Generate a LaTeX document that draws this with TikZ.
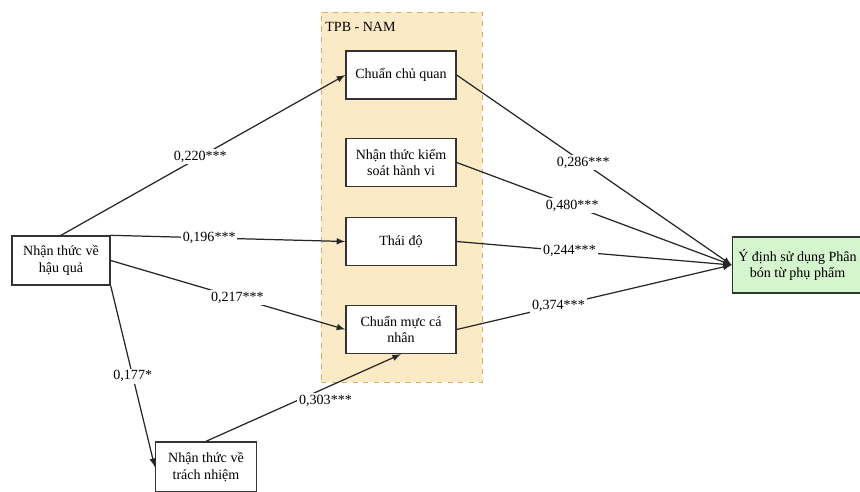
\documentclass[tikz,border=0pt]{standalone}
\usepackage{fontspec}
\setmainfont{Liberation Serif}
\usetikzlibrary{positioning, arrows, calc}
\definecolor{panelfill}{RGB}{252,234,198}
\definecolor{paneldraw}{RGB}{205,175,115}
\definecolor{goalfill}{RGB}{212,245,205}
\begin{document}
\begin{tikzpicture}[x=0.02cm, y=-0.02cm, font=\fontsize{8}{9.5}\selectfont,
	box/.style={draw=black!80, line width=0.8pt, rectangle, fill=white, text centered, align=center, minimum width=2.2cm, minimum height=0.96cm},
	link/.style={-latex, draw=black!85, line width=0.7pt},
	coef/.style={fill=white, inner sep=1pt}]
			
			\useasboundingbox (0,0) rectangle (860,491);
			\clip (0,0) rectangle (860,491);
			
			%Panel
			\node (panel) at (401.5,197) [draw=paneldraw, dashed, fill=panelfill, minimum width=3.22cm, minimum height=7.4cm]{};
			\node (paneltitle) at (325,27) [anchor=west, inner sep=0pt]{TPB - NAM};
			
			%Nodes
			\node (cqc) at (401,75) [box]{Chuẩn chủ quan};
			\node (kshv) at (401,162.5) [box]{Nhận thức kiểm\\soát hành vi};
			\node (thaido) at (401,241.5) [box]{Thái độ};
			\node (cmcn) at (401,329.5) [box]{Chuẩn mực cá\\nhân};
			
			\node (hauqua) at (61,260.5) [box, minimum width=1.96cm, minimum height=0.98cm]{Nhận thức về\\hậu quả};
			\node (trachnhiem) at (206,467) [box, minimum width=2.02cm, minimum height=1cm]{Nhận thức về\\trách nhiệm};
			\node (ydinh) at (797.5,265) [box, fill=goalfill, minimum width=2.5cm, minimum height=1.12cm]{Ý định sử dụng Phân\\bón từ phụ phẩm};
			
			%Links
			\draw[link] (hauqua.north) -- node[coef, pos=0.49]{0,220***} (cqc.west);
			\draw[link] (hauqua.north east) -- node[coef, pos=0.42]{0,196***} (thaido.west);
			\draw[link] (hauqua.east) -- node[coef, pos=0.54]{0,217***} (cmcn.west);
			\draw[link] (hauqua.south east) -- node[coef, pos=0.5]{0,177*} (trachnhiem.west);
			\draw[link] (trachnhiem.north) -- node[coef, pos=0.5, xshift=0.44cm, yshift=-0.06cm]{0,303***} (cmcn.south);
			
			\draw[link] (cqc.east) -- node[coef, pos=0.46]{0,286***} (ydinh.west);
			\draw[link] (kshv.east) -- node[coef, pos=0.42]{0,480***} (ydinh.west);
			\draw[link] (thaido.east) -- node[coef, pos=0.41]{0,244***} (ydinh.west);
			\draw[link] (cmcn.east) -- node[coef, pos=0.37]{0,374***} (ydinh.west);
			
\end{tikzpicture}
\end{document}
